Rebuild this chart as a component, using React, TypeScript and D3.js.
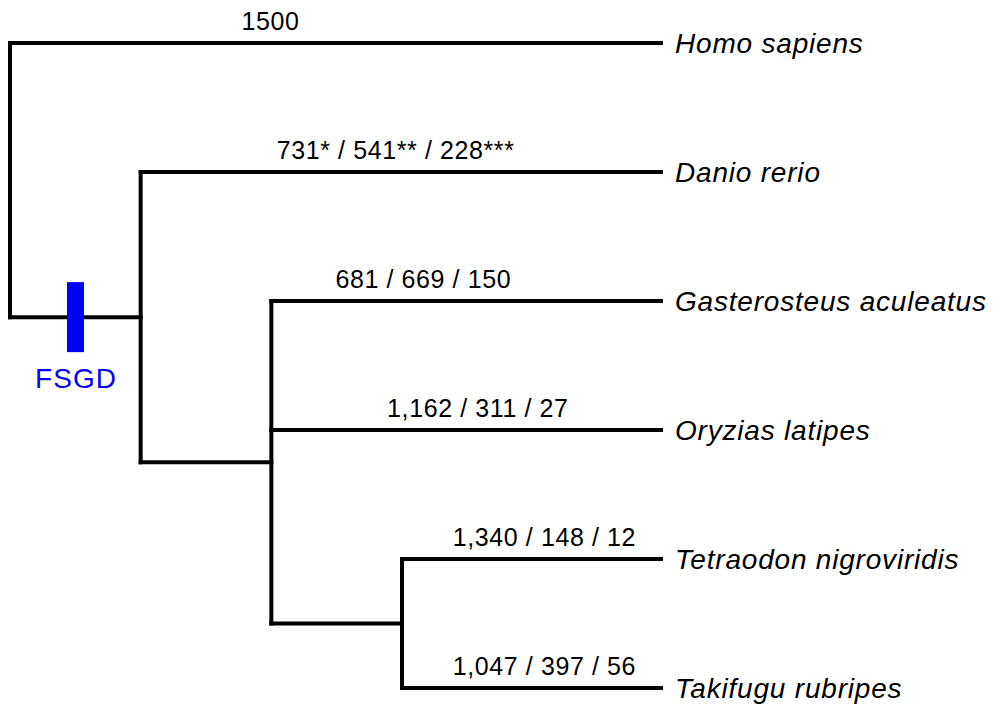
import React from "react";
import * as d3 from "d3";

// ---- data ----
const species = [
  "Homo sapiens",
  "Danio rerio",
  "Gasterosteus aculeatus",
  "Oryzias latipes",
  "Tetraodon nigroviridis",
  "Takifugu rubripes",
];
const branchLabels = [
  "1500",
  "731* / 541** / 228***",
  "681 / 669 / 150",
  "1,162 / 311 / 27",
  "1,340 / 148 / 12",
  "1,047 / 397 / 56",
];
// tree topology (Newick-like nesting)
const treeData = {
  name: "root",
  children: [
    { name: "Homo sapiens" },
    {
      name: "n2",
      children: [
        { name: "Danio rerio" },
        {
          name: "n3",
          children: [
            { name: "Gasterosteus aculeatus" },
            { name: "Oryzias latipes" },
            {
              name: "n4",
              children: [{ name: "Tetraodon nigroviridis" }, { name: "Takifugu rubripes" }],
            },
          ],
        },
      ],
    },
  ],
};
const eventLabel = "FSGD";

// label position along terminal branch (fraction)
const labelFrac = [0.4, 0.49, 0.39, 0.53, 0.55, 0.55];

export default function App() {
  const W = 1001;
  const H = 710;
  const root = d3.hierarchy(treeData as any);
  const maxDepth = 3;
  const xDepth = d3.scaleLinear().domain([0, maxDepth]).range([10, 402]);
  const xLeaf = 661;
  const yLeaf = d3.scalePoint<string>().domain(species).range([43, 688]);

  root.eachAfter((n: any) => {
    if (!n.children) {
      n.px = xLeaf;
      n.py = yLeaf(n.data.name);
    } else {
      n.px = xDepth(n.depth);
      n.py = (n.children[0].py + n.children[n.children.length - 1].py) / 2;
    }
  });

  const segs: { x1: number; y1: number; x2: number; y2: number }[] = [];
  root.each((n: any) => {
    if (n.children) {
      const c0 = n.children[0];
      const c1 = n.children[n.children.length - 1];
      segs.push({ x1: n.px, y1: c0.py, x2: n.px, y2: c1.py });
      n.children.forEach((c: any) => {
        segs.push({ x1: n.px, y1: c.py, x2: c.px, y2: c.py });
      });
    }
  });

  const leaves: any[] = root.leaves();
  const n2: any = root.children![1];

  return (
    <svg width={W} height={H} style={{ position: "absolute", left: 0, top: 0 }} fontFamily="'Liberation Sans', Arial, sans-serif">
      <rect width={W} height={H} fill="#fff" />
      {segs.map((s, i) => (
        <line
          key={i}
          x1={s.x1}
          y1={s.y1}
          x2={s.x2}
          y2={s.y2}
          stroke="#000"
          strokeWidth={4}
          strokeLinecap="square"
        />
      ))}
      {leaves.map((l) => {
        const idx = species.indexOf(l.data.name);
        const parent = l.parent;
        const lx = parent.px + (l.px - parent.px) * labelFrac[idx];
        return (
          <g key={l.data.name}>
            <text x={lx} y={l.py - 13} textAnchor="middle" fontSize={25} letterSpacing={0.6} fill="#000">
              {branchLabels[idx]}
            </text>
            <text x={l.px + 14} y={l.py + 10} fontSize={28} letterSpacing={0.8} fontStyle="italic" fill="#000">
              {l.data.name}
            </text>
          </g>
        );
      })}
      <rect x={67} y={n2.py - 35} width={17} height={70} fill="#0000ff" />
      <text x={76} y={n2.py + 71} textAnchor="middle" fontSize={28} letterSpacing={1} fill="#0000ff">
        {eventLabel}
      </text>
    </svg>
  );
}
